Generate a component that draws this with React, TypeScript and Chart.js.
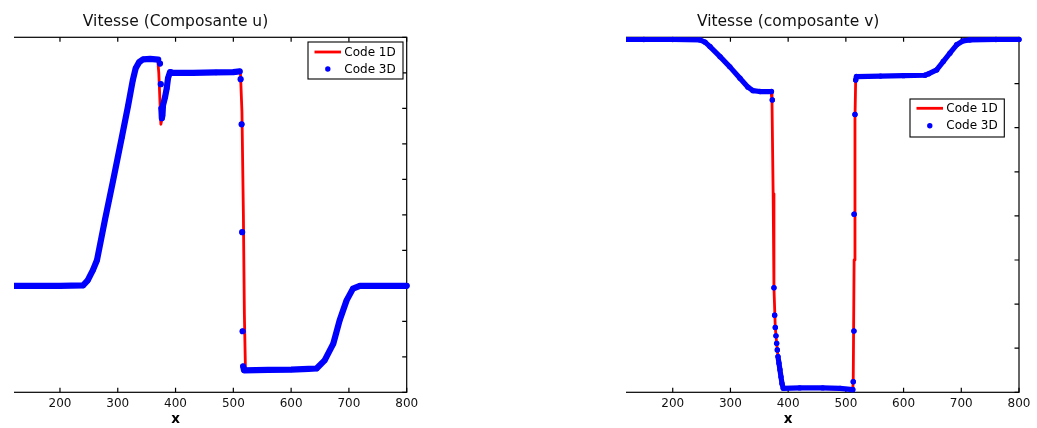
import React, { useEffect, useRef } from 'react';
import { Chart, registerables } from 'chart.js';

Chart.register(...registerables);

// ---------- data ----------
const X_TICKS = [0, 100, 200, 300, 400, 500, 600, 700, 800];
const U_TICKS = [-3, -2, -1, 0, 1, 2, 3, 4, 5, 6, 7];
const V_TICKS = [0, 1, 2, 3, 4, 5, 6, 7, 8];

const SERIES_LABELS = ['Code 1D', 'Code 3D'];

// u component, 1D code (continuous line)
const U_1D_X = [0, 240, 248, 257, 264, 278, 292, 307, 318, 326, 331, 337, 344, 369, 371, 373, 374.6, 376.5, 378, 381.6, 384.5, 386.8, 390.2, 392, 511, 512.3, 514.9, 517.4, 519.1, 520.9, 522, 600, 644, 658, 673, 684, 696, 707, 719, 800];
const U_1D_Y = [0, 0, 0.16, 0.45, 0.73, 1.88, 2.98, 4.18, 5.08, 5.79, 6.13, 6.30, 6.38, 6.39, 6.0, 5.2, 4.55, 4.7, 5.05, 5.31, 5.56, 5.85, 6.01, 6.0, 6.04, 6.0, 4.9, 2.0, -0.8, -2.3, -2.38, -2.36, -2.33, -2.10, -1.63, -0.97, -0.41, -0.08, 0, 0];

// u component, 3D code (cell markers), given as runs of adjacent cells
const U_3D_RUNS: number[][][] = [
  [[0, 0], [40, 0], [80, 0], [120, 0], [160, 0], [200, 0], [240, 0.01], [248, 0.15], [257, 0.44], [264, 0.72], [278, 1.87], [292, 2.97], [307, 4.18], [318, 5.08], [326, 5.79], [331, 6.13], [337, 6.30], [344, 6.38], [356, 6.39], [370, 6.37]],
  [[373.1, 6.26]],
  [[374.4, 5.68]],
  [[375.5, 5.0], [376.3, 4.72], [377.3, 4.80], [378.3, 5.09], [381.8, 5.31], [384.7, 5.56], [387, 5.85], [390.5, 6.02], [392, 6.0], [430, 6.0], [470, 6.01], [500, 6.02], [511, 6.04]],
  [[512.6, 5.82]],
  [[514.3, 4.55]],
  [[515.3, 1.51]],
  [[516.0, -1.28]],
  [[517.0, -2.27], [518.5, -2.38], [560, -2.37], [600, -2.36], [630, -2.34], [644, -2.33], [658, -2.10], [673, -1.63], [684, -0.97], [696, -0.41], [707, -0.08], [719, 0], [760, 0], [800, 0]],
];

// v component, 1D code
const V_1D_X = [0, 247, 256, 264.5, 282, 299, 316.5, 330.4, 339, 351, 370.5, 372, 374, 375.4, 377.7, 380.1, 382.4, 385.8, 389.3, 391.5, 450, 512, 512.8, 514.3, 515.8, 517, 519, 580, 637, 643, 657.3, 668.7, 680.3, 692, 703.4, 715, 800];
const V_1D_Y = [8.0, 7.99, 7.94, 7.84, 7.61, 7.38, 7.12, 6.92, 6.84, 6.82, 6.82, 6.6, 4.5, 2.37, 1.47, 1.11, 0.81, 0.51, 0.20, 0.09, 0.09, 0.06, 0.3, 3.0, 6.2, 7.08, 7.16, 7.17, 7.19, 7.22, 7.31, 7.50, 7.69, 7.88, 7.97, 7.99, 8.0];

// v component, 3D code
const V_3D_RUNS: number[][][] = [
  [[0, 8], [50, 8], [100, 8], [150, 8], [200, 8], [247, 7.99], [256, 7.94], [264.5, 7.84], [282, 7.61], [299, 7.38], [316.5, 7.12], [330.4, 6.92], [339, 6.84], [351, 6.82], [371, 6.82]],
  [[372.5, 6.63]],
  [[375.4, 2.37]],
  [[376.6, 1.75]],
  [[377.7, 1.47]],
  [[378.9, 1.28]],
  [[380.1, 1.11]],
  [[381.2, 0.96]],
  [[382.4, 0.81], [384.1, 0.66], [385.8, 0.51], [387.6, 0.35], [389.3, 0.20], [391.5, 0.09], [420, 0.10], [460, 0.10], [490, 0.09], [512, 0.06]],
  [[512.8, 0.24]],
  [[514.0, 1.39]],
  [[514.3, 4.04]],
  [[515.8, 6.30]],
  [[517, 7.08], [518.4, 7.16], [560, 7.17], [600, 7.18], [637, 7.19], [643, 7.22], [657.3, 7.31], [668.7, 7.50], [680.3, 7.69], [692, 7.88], [703.4, 7.97], [715, 7.99], [760, 8], [800, 8]],
];

// ---------- helpers ----------
const FONT = '"DejaVu Sans", sans-serif';
const RED = '#ff0000';
const BLUE = '#0000ff';

function toPoints(xs: number[], ys: number[]) {
  return xs.map((x, i) => ({ x, y: ys[i] }));
}

function runsToPoints(runs: number[][][]) {
  const out: { x: number; y: number | null }[] = [];
  runs.forEach((run, i) => {
    if (i > 0) out.push({ x: run[0][0], y: null });
    run.forEach(([x, y]) => out.push({ x, y }));
  });
  return out;
}

type PanelCfg = {
  title: string;
  clipLeft: number;
  clipWidth: number;
  canvasLeft: number;
  canvasW: number;
  padL: number;
  padR: number;
  yMin: number;
  yMax: number;
  yTicks: number[];
  line1D: { x: number; y: number }[];
  pts3D: { x: number; y: number | null }[];
  bandWidth: number;
  legend: { right: number; top: number; w: number; h: number; row1: number; row2: number };
};

function framePlugin(cfg: PanelCfg) {
  return {
    id: 'frame',
    beforeDatasetsDraw(chart: any) {
      const { ctx, chartArea: a, scales } = chart;
      const L = 4.5;
      ctx.save();
      ctx.strokeStyle = '#000';
      ctx.lineWidth = 1.2;
      ctx.strokeRect(a.left, a.top, a.right - a.left, a.bottom - a.top);
      ctx.beginPath();
      for (const v of X_TICKS) {
        const px = scales.x.getPixelForValue(v);
        ctx.moveTo(px, a.bottom);
        ctx.lineTo(px, a.bottom - L);
        ctx.moveTo(px, a.top);
        ctx.lineTo(px, a.top + L);
      }
      for (const v of cfg.yTicks) {
        const py = scales.y.getPixelForValue(v);
        ctx.moveTo(a.left, py);
        ctx.lineTo(a.left + L, py);
        ctx.moveTo(a.right, py);
        ctx.lineTo(a.right - L, py);
      }
      ctx.stroke();
      ctx.restore();
    },
    afterDatasetsDraw(chart: any) {
      const { ctx, chartArea: a } = chart;
      const lg = cfg.legend;
      const bx = a.right - lg.right - lg.w;
      const by = a.top + lg.top;
      const ds = chart.data.datasets;
      ctx.save();
      ctx.fillStyle = '#fff';
      ctx.fillRect(bx, by, lg.w, lg.h);
      ctx.strokeStyle = '#000';
      ctx.lineWidth = 1.1;
      ctx.strokeRect(bx, by, lg.w, lg.h);
      // row 1: line
      const y1 = by + lg.row1;
      ctx.strokeStyle = ds[0].borderColor;
      ctx.lineWidth = 2.8;
      ctx.beginPath();
      ctx.moveTo(bx + 6.5, y1);
      ctx.lineTo(bx + 33, y1);
      ctx.stroke();
      // row 2: marker
      const y2 = by + lg.row2;
      ctx.fillStyle = ds[1].pointBackgroundColor;
      ctx.beginPath();
      ctx.arc(bx + 19.8, y2, 2.7, 0, Math.PI * 2);
      ctx.fill();
      ctx.fillStyle = '#000';
      ctx.font = `12px ${FONT}`;
      ctx.textBaseline = 'middle';
      ctx.textAlign = 'left';
      ctx.fillText(ds[0].label, bx + 36.3, y1 + 1);
      ctx.fillText(ds[1].label, bx + 36.3, y2 + 0.5);
      ctx.restore();
    },
  };
}

function Panel({ cfg }: { cfg: PanelCfg }) {
  const ref = useRef<HTMLCanvasElement | null>(null);
  useEffect(() => {
    if (!ref.current) return;
    const chart = new Chart(ref.current, {
      type: 'line',
      data: {
        datasets: [
          {
            label: SERIES_LABELS[0],
            data: cfg.line1D,
            borderColor: RED,
            backgroundColor: RED,
            borderWidth: 2.8,
            borderJoinStyle: 'round',
            borderCapStyle: 'round',
            pointRadius: 0,
            fill: false,
            tension: 0,
            order: 1,
            clip: false as any,
          },
          {
            label: SERIES_LABELS[1],
            data: cfg.pts3D,
            borderColor: BLUE,
            backgroundColor: BLUE,
            pointBackgroundColor: BLUE,
            pointBorderColor: BLUE,
            pointBorderWidth: 0,
            pointRadius: 2.7,
            borderWidth: cfg.bandWidth,
            borderCapStyle: 'round',
            borderJoinStyle: 'round',
            spanGaps: false,
            fill: false,
            tension: 0,
            order: 0,
            clip: false as any,
          },
        ] as any,
      },
      options: {
        animation: false,
        responsive: false,
        maintainAspectRatio: false,
        events: [],
        layout: { padding: { left: cfg.padL, right: cfg.padR, top: 0, bottom: 0 } },
        scales: {
          x: {
            type: 'linear',
            position: 'bottom',
            min: 0,
            max: 800,
            grid: { display: false, drawTicks: false },
            border: { display: false },
            ticks: {
              stepSize: 100,
              autoSkip: false,
              maxRotation: 0,
              padding: 4,
              color: '#111',
              font: { family: FONT, size: 12 },
            },
            title: {
              display: true,
              text: 'x',
              color: '#000',
              font: { family: FONT, size: 13.5, weight: 'bold' },
              padding: { top: 0, bottom: 0 },
            },
            afterFit: (s: any) => {
              s.height = 35.7;
            },
          },
          y: {
            type: 'linear',
            display: false,
            min: cfg.yMin,
            max: cfg.yMax,
          },
        },
        plugins: {
          legend: { display: false },
          tooltip: { enabled: false },
          title: {
            display: true,
            text: cfg.title,
            fullSize: false,
            color: '#111',
            font: { family: FONT, size: 15.5, weight: 'normal' },
            padding: { top: 12.2, bottom: 6.5 },
          },
        },
      } as any,
      plugins: [framePlugin(cfg) as any],
    });
    return () => chart.destroy();
  }, []);
  return (
    <div
      style={{
        position: 'absolute',
        left: cfg.clipLeft,
        top: 0,
        width: cfg.clipWidth,
        height: 428,
        overflow: 'hidden',
      }}
    >
      <canvas
        ref={ref}
        width={cfg.canvasW}
        height={428}
        style={{ position: 'absolute', left: cfg.canvasLeft - cfg.clipLeft, top: 0 }}
      />
    </div>
  );
}

const LEFT: PanelCfg = {
  title: 'Vitesse (Composante u)',
  clipLeft: 14,
  clipWidth: 586,
  canvasLeft: -70,
  canvasW: 510,
  padL: 14.4,
  padR: 33.3,
  yMin: -3,
  yMax: 7,
  yTicks: U_TICKS,
  line1D: toPoints(U_1D_X, U_1D_Y),
  pts3D: runsToPoints(U_3D_RUNS),
  bandWidth: 6.2,
  legend: { right: 3.7, top: 4.7, w: 95, h: 37, row1: 10, row2: 27 },
};

const RIGHT: PanelCfg = {
  title: 'Vitesse (composante v)',
  clipLeft: 626,
  clipWidth: 411,
  canvasLeft: 540,
  canvasW: 497,
  padL: 17.3,
  padR: 18,
  yMin: 0,
  yMax: 8.05,
  yTicks: V_TICKS,
  line1D: toPoints(V_1D_X, V_1D_Y),
  pts3D: runsToPoints(V_3D_RUNS),
  bandWidth: 5.2,
  legend: { right: 14.7, top: 61.7, w: 94.3, h: 38, row1: 9.3, row2: 26.7 },
};

export default function App() {
  return (
    <div
      style={{
        position: 'fixed',
        left: 0,
        top: 0,
        width: 1037,
        height: 428,
        background: '#fff',
        overflow: 'hidden',
      }}
    >
      <Panel cfg={LEFT} />
      <Panel cfg={RIGHT} />
    </div>
  );
}
